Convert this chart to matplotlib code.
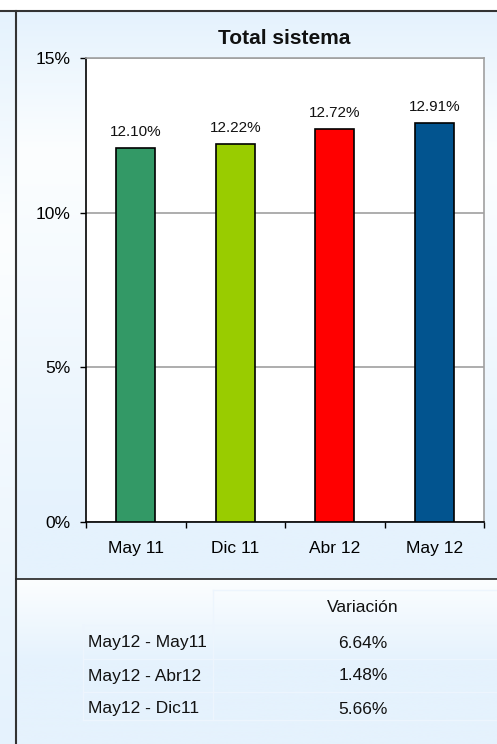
import numpy as np
import matplotlib
matplotlib.use('Agg')
from matplotlib import pyplot as plt
from matplotlib.ticker import FixedLocator, NullFormatter

plt.rcParams['font.family'] = ['Liberation Sans', 'DejaVu Sans']

# datos del grafico
meses = ['May 11', 'Dic 11', 'Abr 12', 'May 12']
valores = [12.10, 12.22, 12.72, 12.91]
colores = ['#339966', '#99CC00', '#FF0000', '#02548F']

# tabla de variaciones
periodos = ['May12 - May11', 'May12 - Abr12', 'May12 - Dic11']
variacion = ['6.64%', '1.48%', '5.66%']

W, H = 497, 744
fig = plt.figure(figsize=(W / 100, H / 100), dpi=100)

# fondo en coordenadas de pixel
bg = fig.add_axes([0, 0, 1, 1])
bg.set_xlim(0, W)
bg.set_ylim(H, 0)
bg.axis('off')

azul = np.array([229, 242, 253]) / 255
blanco = np.array([252, 254, 255]) / 255

def degradado(y0, y1, paradas, x0, x1):
    ys = np.linspace(0, 1, 200)
    pos = [p for p, c in paradas]
    img = np.zeros((200, 1, 3))
    for k in range(3):
        img[:, 0, k] = np.interp(ys, pos, [c[k] for p, c in paradas])
    bg.imshow(img, extent=[x0, x1, y1, y0], aspect='auto', zorder=0)

degradado(11, H, [(0, azul), (0.3, blanco), (1, azul)], 0, 16)
degradado(11, 579, [(0, azul), (0.25, blanco), (0.9, azul), (1, azul)], 16, W)
degradado(579, H, [(0, blanco), (0.5, azul), (1, azul)], 16, W)

bg.plot([0, W], [11, 11], color='#333333', lw=1.5, zorder=3)
bg.plot([16, 16], [11, H], color='#333333', lw=1.5, zorder=3)
bg.plot([16, W], [579, 579], color='#222222', lw=1.2, zorder=3)

# celdas tenues de la tabla
linea = '#EDF5FD'
bg.plot([213, W], [590, 590], color=linea, lw=1, zorder=2)
for yy in [625, 659, 692, 720]:
    bg.plot([83, W], [yy, yy], color=linea, lw=1, zorder=2)
bg.plot([83, 83], [625, 720], color=linea, lw=1, zorder=2)
bg.plot([213, 213], [590, 720], color=linea, lw=1, zorder=2)

bg.text(363, 607, 'Variación', ha='center', va='center', fontsize=12.5, color='#111111')
for i, (p, v) in enumerate(zip(periodos, variacion)):
    y = 643 + i * 33
    bg.text(88, y, p, ha='left', va='center', fontsize=12.5, color='#111111')
    bg.text(363, y, v, ha='center', va='center', fontsize=12.5, color='#111111')

# grafico de barras
ax = fig.add_axes([86 / W, (H - 522) / H, 398 / W, 464 / H])
ax.set_facecolor('white')
x = np.arange(len(meses))
ax.bar(x, valores, width=0.39, color=colores, edgecolor='black', linewidth=1.2, zorder=3)
for xi, v in zip(x, valores):
    ax.annotate('%.2f%%' % v, (xi, v), xytext=(0, 11.5), textcoords='offset points',
                ha='center', va='center', fontsize=11, color='#111111')

ax.set_xlim(-0.5, len(meses) - 0.5)
ax.set_ylim(0, 15)
ax.set_yticks([0, 5, 10, 15])
ax.set_yticklabels(['0%', '5%', '10%', '15%'], fontsize=12.5)
ax.yaxis.grid(True, color='#A0A0A0', lw=1.2, zorder=0)
ax.xaxis.set_major_locator(FixedLocator(np.arange(-0.5, len(meses), 1.0)))
ax.xaxis.set_major_formatter(NullFormatter())
ax.xaxis.set_minor_locator(FixedLocator(x))
ax.set_xticklabels(meses, minor=True, fontsize=12.5)
ax.tick_params(axis='x', which='major', length=4, width=1, direction='out')
ax.tick_params(axis='x', which='minor', length=0, pad=13.5)
ax.tick_params(axis='y', length=4, width=1, direction='out', pad=7)

ax.spines['left'].set_color('black')
ax.spines['bottom'].set_color('black')
ax.spines['top'].set_color('#A0A0A0')
ax.spines['right'].set_color('#A0A0A0')
for s in ax.spines.values():
    s.set_linewidth(1.2)

fig.text(284 / W, 1 - 39 / H, 'Total sistema', ha='center', va='center',
         fontsize=15, fontweight='bold', color='#111111')

fig.savefig('out.png', dpi=100)
